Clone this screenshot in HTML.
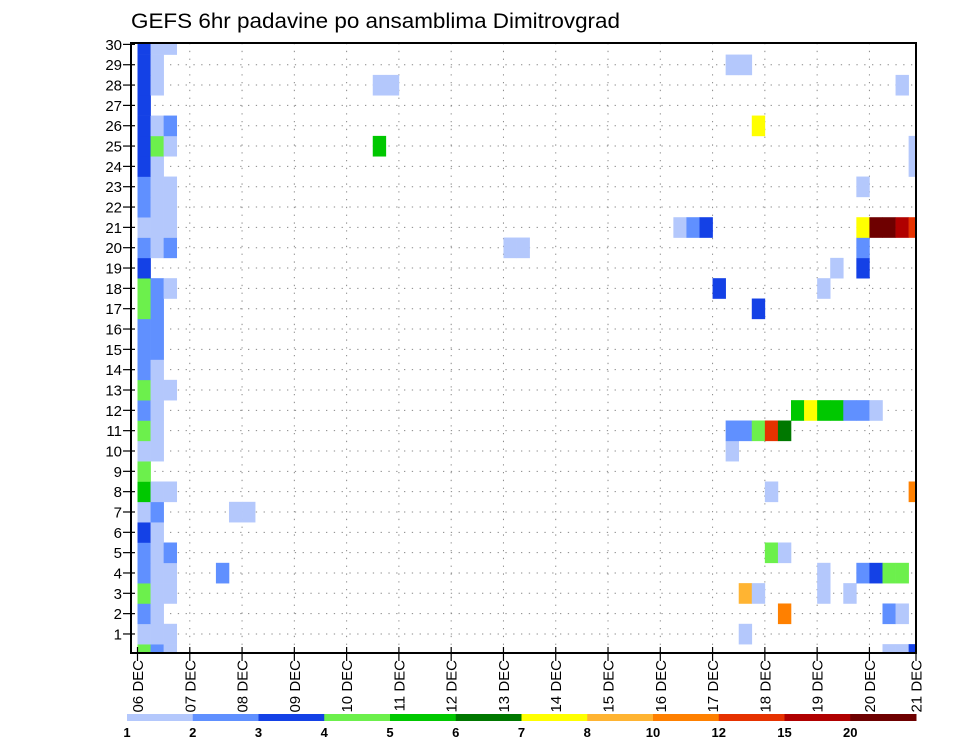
<!DOCTYPE html>
<html><head><meta charset="utf-8"><title>GEFS 6hr padavine po ansamblima Dimitrovgrad</title>
<style>
html,body{margin:0;padding:0;background:#fff;}
svg{display:block;font-family:"Liberation Sans",sans-serif;}
</style></head>
<body>
<svg id="chart" width="960" height="742" viewBox="0 0 960 742" xmlns="http://www.w3.org/2000/svg">
<text x="131" y="28" font-size="21" fill="#000" textLength="489" lengthAdjust="spacingAndGlyphs">GEFS 6hr padavine po ansamblima Dimitrovgrad</text>
<defs><clipPath id="plotclip"><rect x="131" y="43" width="785" height="610"/></clipPath></defs>
<g id="grid"></g>
<g id="cells" clip-path="url(#plotclip)"></g>
<rect x="131" y="43" width="785" height="610" fill="none" stroke="#000" stroke-width="2"/>
<g id="yaxis"></g>
<g id="xaxis"></g>
<g id="legend"></g>
</svg>
<script>
// ---- data ----
const memberLabels = [1,2,3,4,5,6,7,8,9,10,11,12,13,14,15,16,17,18,19,20,21,22,23,24,25,26,27,28,29,30];
const dayLabels = ["06 DEC","07 DEC","08 DEC","09 DEC","10 DEC","11 DEC","12 DEC","13 DEC","14 DEC","15 DEC","16 DEC","17 DEC","18 DEC","19 DEC","20 DEC","21 DEC"];
const levelThresholds = [1,2,3,4,5,6,7,8,10,12,15,20];
const levelLabels = ["1","2","3","4","5","6","7","8","10","12","15","20"];
const levelColors = ["#b4c8fc","#6090ff","#1441e6","#6cf04c","#00c800","#007800","#ffff00","#ffb432","#ff8000","#e63200","#b00000","#6e0000"];
// member (row 0..30): 6-hourly step indices and precipitation values (mm)
const stepsByMember = [
 [0,1,2,57,58,59],
 [0,1,2,46],
 [0,1,49,57,58],
 [0,1,2,46,47,52,54],
 [0,1,2,6,52,55,56,57,58],
 [0,1,2,48,49],
 [0,1],
 [0,1,7,8],
 [0,1,2,48,59],
 [0],
 [0,1,45],
 [0,1,45,46,47,48,49],
 [0,1,50,51,52,53,54,55,56],
 [0,1,2],
 [0,1],
 [0,1],
 [0,1],
 [0,1,47],
 [0,1,2,44,52],
 [0,53,55],
 [0,1,2,28,29,55],
 [0,1,2,41,42,43,55,56,57,58,59],
 [0,1,2],
 [0,1,2,55],
 [0,1,59],
 [0,1,2,18,59],
 [0,1,2,47],
 [0],
 [0,1,18,19,58],
 [0,1,45,46],
 [0,1,2]
];
const valuesByMember = [
 [4.5,2.5,1.5,1.5,1.5,3.5],
 [1.5,1.5,1.5,1.5],
 [2.5,1.5,11,2.5,1.5],
 [4.5,1.5,1.5,9,1.5,1.5,1.5],
 [2.5,1.5,1.5,2.5,1.5,2.5,3.5,4.5,4.5],
 [2.5,1.5,2.5,4.5,1.5],
 [3.5,1.5],
 [1.5,2.5,1.5,1.5],
 [5.5,1.5,1.5,1.5,11],
 [4.5],
 [1.5,1.5,1.5],
 [4.5,1.5,2.5,2.5,4.5,13.5,6.5],
 [2.5,1.5,5.5,7.5,5.5,5.5,2.5,2.5,1.5],
 [4.5,1.5,1.5],
 [2.5,1.5],
 [2.5,2.5],
 [2.5,2.5],
 [4.5,2.5,3.5],
 [4.5,2.5,1.5,3.5,1.5],
 [3.5,1.5,3.5],
 [2.5,1.5,2.5,1.5,1.5,2.5],
 [1.5,1.5,1.5,1.5,2.5,3.5,7.5,24,24,17,13.5],
 [2.5,1.5,1.5],
 [2.5,1.5,1.5,1.5],
 [3.5,1.5,1.5],
 [3.5,4.5,1.5,5.5,1.5],
 [3.5,1.5,2.5,7.5],
 [3.5],
 [3.5,1.5,1.5,1.5,1.5],
 [3.5,1.5,1.5,1.5],
 [3.5,1.5,1.5]
];

// ---- scales ----
const NS = "http://www.w3.org/2000/svg";
const PL = 131, PR = 916, PT = 43, PB = 653;
const X0 = 137.5, DAY = 52.28, STEP = DAY / 4;
const Y0 = 654.3, ROW = 20.33;
function xDay(d){ return Math.min(X0 + d * DAY, PR); }
function xStep(s){ return X0 + s * STEP; }
function yRow(r){ return Y0 - r * ROW; }
function levelOf(v){ let k = 0; for (let i = 0; i < levelThresholds.length; i++) if (v >= levelThresholds[i]) k = i; return k; }
function mk(tag, attrs, parent){ const e = document.createElementNS(NS, tag); for (const k in attrs) e.setAttribute(k, attrs[k]); parent.appendChild(e); return e; }

// grid
const grid = document.getElementById('grid');
memberLabels.forEach(function(m){
  if (m >= 30) return;
  const l = mk('line', {x1:PL, x2:PR, y1:yRow(m), y2:yRow(m), stroke:'#888', 'stroke-width':1, 'stroke-dasharray':'1.3,6.5'}, grid);
  
  
});
dayLabels.forEach(function(d, i){
  if (i === 0 || i === dayLabels.length - 1) return;
  const l = mk('line', {x1:xDay(i), x2:xDay(i), y1:PT, y2:PB, stroke:'#888', 'stroke-width':1, 'stroke-dasharray':'1.3,6.5'}, grid);
  
  
});

// cells
const cells = document.getElementById('cells');
stepsByMember.forEach(function(steps, r){
  steps.forEach(function(s, j){
    const v = valuesByMember[r][j];
    const c = mk('rect', {x:xStep(s).toFixed(2), y:(yRow(r) - ROW/2).toFixed(2), width:(STEP+0.3).toFixed(2), height:(ROW+0.3).toFixed(2), fill:levelColors[levelOf(v)]}, cells);
    
    
  });
});

// y axis
const ya = document.getElementById('yaxis');
memberLabels.forEach(function(m){
  const t = mk('line', {x1:PL-8, x2:PL+4, y1:yRow(m), y2:yRow(m), stroke:'#000', 'stroke-width':1.2}, ya);
  
  
  const tx = mk('text', {x:PL-9, y:yRow(m)+5.5, 'font-size':15, 'text-anchor':'end', fill:'#000'}, ya);
  tx.textContent = m;
  
  
});

// x axis
const xa = document.getElementById('xaxis');
dayLabels.forEach(function(d, i){
  const x = xDay(i);
  const t = mk('line', {x1:x, x2:x, y1:PB-6, y2:PB+8, stroke:'#000', 'stroke-width':1.2}, xa);
  
  
  const tx = mk('text', {x:0, y:0, 'font-size':15, 'text-anchor':'end', fill:'#000', transform:'translate(' + (x+5.5) + ',' + (PB+7) + ') rotate(-90)'}, xa);
  tx.textContent = d;
  
  
});

// legend
const lg = document.getElementById('legend');
const LX = 127, LW = (916 - 127) / levelColors.length;
levelColors.forEach(function(col, i){
  const r = mk('rect', {x:LX + i*LW, y:714, width:LW+0.5, height:7, fill:col}, lg);
  
  
});
levelLabels.forEach(function(lab, i){
  const t = mk('text', {x:LX + i*LW, y:737, 'font-size':13, 'font-weight':'bold', 'text-anchor':'middle', fill:'#000'}, lg);
  t.textContent = lab;
  
  
});
</script>
</body></html>
